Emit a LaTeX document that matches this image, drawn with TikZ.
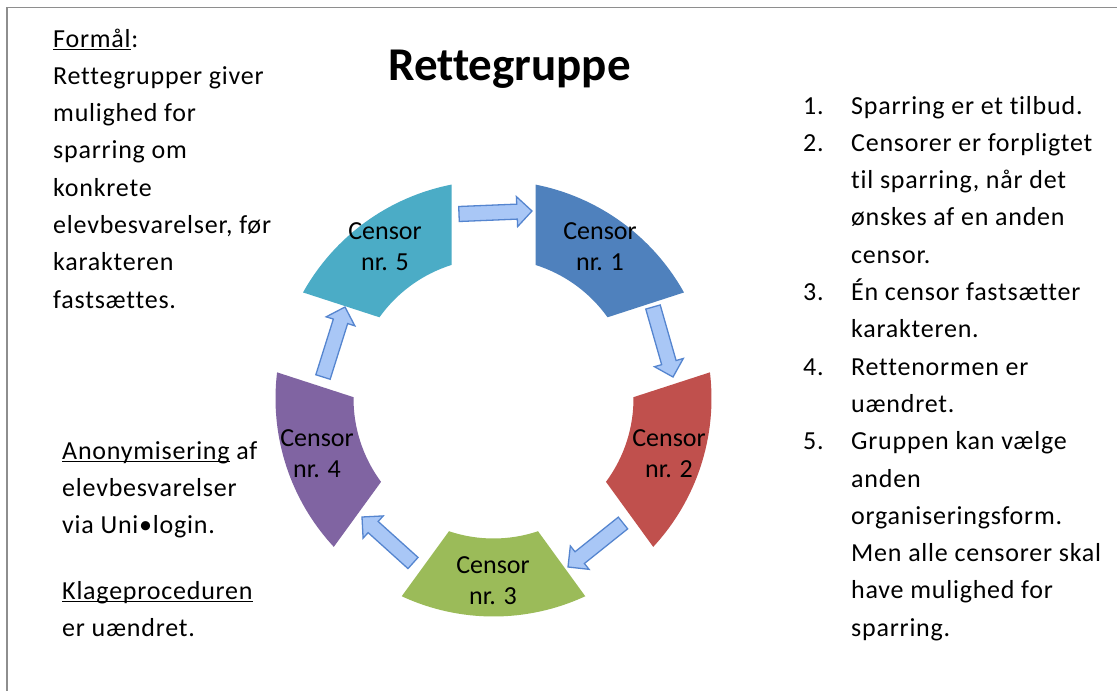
\documentclass[tikz,border=0pt]{standalone}
\usepackage{fontspec}
\setmainfont{Carlito}[Ligatures=NoCommon]
\newfontfamily\bodyfont{Carlito}[Ligatures=NoCommon, LetterSpace=3]
\usetikzlibrary{calc}
\definecolor{segone}{HTML}{4F81BD}
\definecolor{segtwo}{HTML}{C0504D}
\definecolor{segthree}{HTML}{9BBB59}
\definecolor{segfour}{HTML}{8064A2}
\definecolor{segfive}{HTML}{4BACC6}
\definecolor{arrowfill}{HTML}{A9C7F6}
\definecolor{arrowline}{HTML}{5585CF}
\definecolor{framegray}{HTML}{8E8E8E}
\newcommand\ulx[1]{\setbox0\hbox{#1}\rlap{\rule[-3.2pt]{\wd0}{1.3pt}}#1}
\newcommand\blockarrow[2]{%
  \coordinate (#1-b) at ($(#2)!15pt!(#1)$);
  \filldraw[barrow]
    ($(#1)!7.5pt!90:(#2)$) -- ($(#1-b)!7.5pt!90:(#2)$) -- ($(#1-b)!15pt!90:(#2)$)
    -- (#2) -- ($(#1-b)!15pt!-90:(#2)$) -- ($(#1-b)!7.5pt!-90:(#2)$)
    -- ($(#1)!7.5pt!-90:(#2)$) -- cycle;}
\newcommand\segment[3]{% rotation, colour, name
  \begin{scope}[shift={(493.5,398.5)}, y=1pt, rotate=#1]
    \fill[#2] (54+\aR:218) arc[start angle=54+\aR, end angle=126-\aR, radius=218]
      -- (126-\ar:140) arc[start angle=126-\ar, end angle=54+\ar, radius=140] -- cycle;
  \end{scope}}
\pgfmathsetmacro\aR{asin(42/218)}
\pgfmathsetmacro\ar{asin(42/140)}
\tikzset{
  body/.style={font=\bodyfont\fontsize{26}{37.3}\selectfont, inner sep=0pt, anchor=base west},
  censor/.style={font=\fontsize{26}{31}\selectfont, align=center, inner sep=0pt},
  barrow/.style={fill=arrowfill, draw=arrowline, line width=1.3pt, line join=miter},
}
\begin{document}
\begin{tikzpicture}[x=1pt,y=-1pt]
\useasboundingbox (0,0) rectangle (1117,691);
\fill[white] (0,0) rectangle (1117,691);
\draw[framegray, line width=1.6pt] (7,691) -- (7,7.5) -- (1117,7.5);

% title
\node[font=\fontsize{47}{52}\selectfont\bfseries, inner sep=0pt, anchor=base] (title) at (509.5,80) {Rettegruppe};

% left texts
\node[body] (purpose) at (53,47) {\begin{tabular}[t]{@{}l@{}}\ulx{Formål}:\\ Rettegrupper giver\\ mulighed for\\ sparring om\\ konkrete\\ elevbesvarelser, før\\ karakteren\\ fastsættes.\end{tabular}};
\node[body] (anon) at (62,459) {\begin{tabular}[t]{@{}l@{}}\ulx{Anonymisering} af\\ elevbesvarelser\\ via Uni•login.\end{tabular}};
\node[body] (klage) at (62,599) {\begin{tabular}[t]{@{}l@{}}\ulx{Klageproceduren}\\ er uændret.\end{tabular}};

% right list
\node[body] (rules) at (803,114) {\begin{tabular}[t]{@{}p{48pt}@{}l@{}}
1. & Sparring er et tilbud.\\
2. & Censorer er forpligtet\\
   & til sparring, når det\\
   & ønskes af en anden\\
   & censor.\\
3. & Én censor fastsætter\\
   & karakteren.\\
4. & Rettenormen er\\
   & uændret.\\
5. & Gruppen kan vælge\\
   & anden\\
   & organiseringsform.\\
   & Men alle censorer skal\\
   & have mulighed for\\
   & sparring.\end{tabular}};

% ring segments
\segment{-36}{segone}{s1}
\segment{-108}{segtwo}{s2}
\segment{-180}{segthree}{s3}
\segment{108}{segfour}{s4}
\segment{36}{segfive}{s5}

\node[censor] (c1) at (600,247) {Censor\\nr. 1};
\node[censor] (c2) at (669,454) {Censor\\nr. 2};
\node[censor] (c3) at (493,581) {Censor\\nr. 3};
\node[censor] (c4) at (317,454) {Censor\\nr. 4};
\node[censor] (c5) at (385,247) {Censor\\nr. 5};

% block arrows
\coordinate (t51) at (459,214); \coordinate (h51) at (532,211);
\coordinate (t12) at (653,307); \coordinate (h12) at (673,377);
\coordinate (t23) at (623,523); \coordinate (h23) at (568,567);
\coordinate (t34) at (413,563); \coordinate (h34) at (362,517);
\coordinate (t45) at (323,377); \coordinate (h45) at (345,307);
\blockarrow{t51}{h51}
\blockarrow{t12}{h12}
\blockarrow{t23}{h23}
\blockarrow{t34}{h34}
\blockarrow{t45}{h45}
\end{tikzpicture}
\end{document}
